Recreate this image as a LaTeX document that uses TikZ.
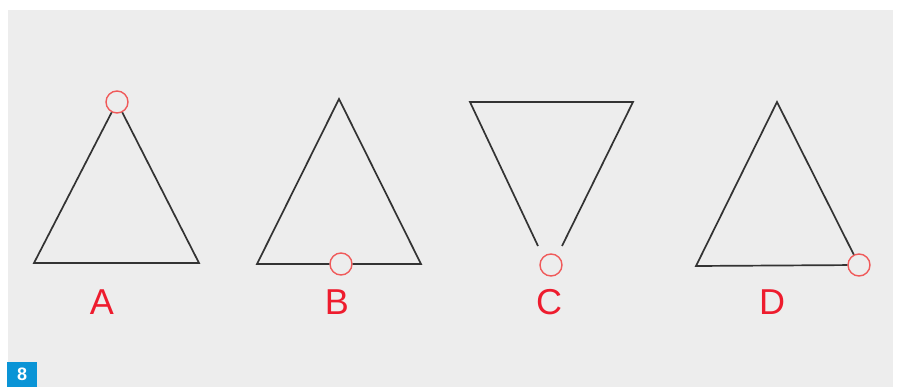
\documentclass[tikz,border=0pt]{standalone}
\usepackage{fontspec}
\setmainfont{Liberation Sans}
\definecolor{panel}{HTML}{EDEDED}
\definecolor{linegray}{HTML}{333333}
\definecolor{labred}{HTML}{EE1C2E}
\definecolor{ringred}{HTML}{F05A5A}
\definecolor{tagblue}{HTML}{0A94D6}
\tikzset{
  edge/.style={draw=linegray, line width=1.7pt},
  ring/.style={circle, draw=ringred, line width=1.4pt, minimum size=22pt, inner sep=0pt},
  letter/.style={text=labred, font=\fontsize{36}{36}\selectfont, inner sep=0pt}
}
\begin{document}
\begin{tikzpicture}[x=1pt,y=-1pt]
\useasboundingbox (0,0) rectangle (900,387);
\fill[white] (0,0) rectangle (900,387);
\fill[panel] (8,10) rectangle (893,387);
% blue tag
\node[fill=tagblue, minimum width=30pt, minimum height=25pt, inner sep=0pt, anchor=north west,
  text=white, font=\bfseries\fontsize{18}{18}\selectfont] (tag) at (7,362) {8};
% A
\coordinate (aL) at (34,263);
\coordinate (aR) at (199,263);
\node[ring] (aC) at (117,102) {};
\draw[edge] (aC) -- (aL) -- (aR) -- (aC);
\node[letter] (la) at (102,302) {A};
% B
\coordinate (bT) at (339,99);
\coordinate (bL) at (257,264);
\coordinate (bR) at (421,264);
\node[ring] (bC) at (341,264) {};
\draw[edge] (bC) -- (bL) -- (bT) -- (bR) -- (bC);
\node[letter] (lb) at (337,302) {B};
% C
\coordinate (cL) at (470,102);
\coordinate (cR) at (633,102);
\coordinate (cEl) at (538,246);
\coordinate (cEr) at (562,246);
\node[ring] (cC) at (551,265) {};
\draw[edge] (cEl) -- (cL) -- (cR) -- (cEr);
\node[letter] (lc) at (549,302) {C};
% D
\coordinate (dT) at (777,102);
\coordinate (dL) at (696,266);
\node[ring] (dC) at (859,265) {};
\draw[edge] (dC) -- (dT) -- (dL) -- (dC);
\node[letter] (ld) at (772,302) {D};
\end{tikzpicture}
\end{document}
